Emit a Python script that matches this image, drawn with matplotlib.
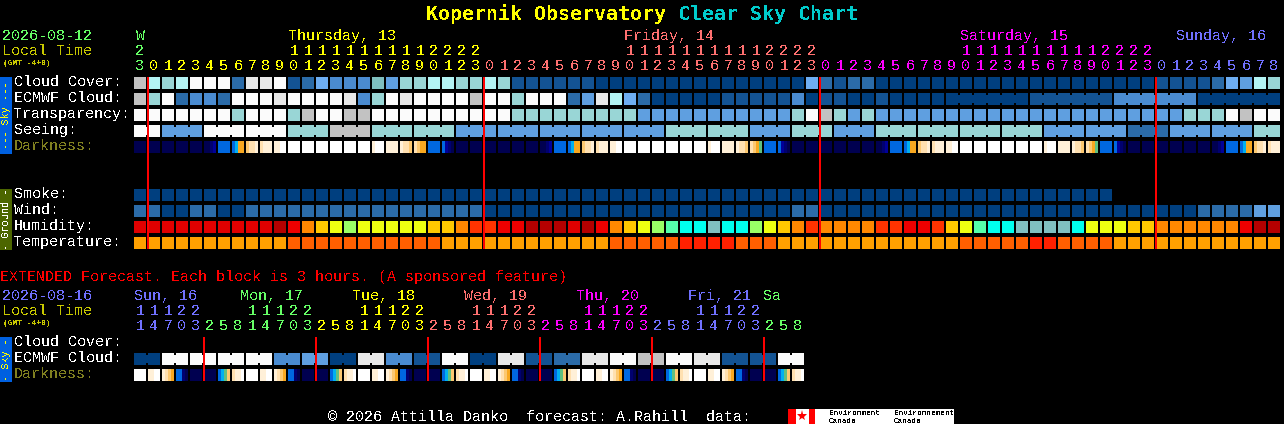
import numpy as np
import matplotlib
matplotlib.use("Agg")
import matplotlib.pyplot as plt
from matplotlib.patches import Rectangle

# ---------- data (one code per block) ----------
cloud_cover = list("LIHIJJJCKKJBCFDDDGEHH" "IIHHIHBBBBBB" "AAAAAAAAAAAAAAA" "FCBCC"
                   "AAAAAAAAAAAAAAAAAAAA" "BBBBCFEIH")
ecmwf_cloud = list("LHJCDDCJJJKJJJJKDHJKJ" "JJJLJJHJJJCEKIFC" "AAAAABBBBBDABB" "AABAAAA"
                   "AAAAAA" "BBBBBB" "DDDDDD" "AAAAAA")
ecmwf_groups = [1] * 58 + [6, 6, 6, 6]
transparency = list("JJJJJJJ" "H" "JJJ" "H" "L" "JJ" "LL" "JJJJJJJJJJ" "HHHHHHHHH" "EEEEEEEEEEE"
                    "H" "J" "L" "H" "E" "H" "EEEEEEEEEEEEEEEEEEEEEE" "HHH" "J" "L" "JJ")
seeing = list("JJ" "EEE" "JJJ" "JJJ" "HHH" "LLL" "HHH" "HHH" "EEE" "EEE" "EEE" "EEE" "EEE"
              "HHH" "HHH" "EEE" "HHH" "EEE" "HHH" "HHH" "HHH" "HHH" "EEE" "EEE" "CCC" "EEE" "EEE" "HH")
seeing_groups = [2] + [3] * 26 + [2]
darkness = ("0000 0000 0000 0000 0000 0012 3333 "
            "3455 6778 7888 8899 9999 9999 9999 9999 9999 9999 8999 8888 8776 7655 3333 3210 "
            "0000 0000 0000 0000 0000 0000 0012 3333 "
            "3455 6778 7888 8899 9999 9999 9999 9999 9999 9999 8999 8888 8776 765g 3333 3210 "
            "0000 0000 0000 0000 0000 0000 0012 3333 "
            "3455 6778 7888 8899 9999 9999 9999 9999 9999 9999 8999 8888 8776 765g 3333 3210 "
            "0000 0000 0000 0000 0000 0000 0012 3333 "
            "3455 6778 7888").split()
smoke = list("AAAAAAAAAAAAAAAAAAAAAAAAAAAAAAAAAAAAAAAAAAAAAAAAAAAAAAAAAAAAAAAAAAAAAA")
wind = list("CC" "AA" "CC" "AA" "CCCCCCCCCCCCCCCCC" "AAAAAAAAAAAAAAAAAAAAAA" "CC"
            "AAAAAAAAAAAAAAAAAAAAAAAAAAA" "CCCC" "EE")
humidity = list("bbbbbbbbbbacefghggggg" "ffeddccaaabac" "efghijjkjjhgfed" "eeeeddccd"
                "fgijjkkkkjgggff" "eeeeeecaa")
temperature = list("ppppppppppp" "qqqqqqqqqqq" "pppppppppppp" "qqqqq" "rrrr" "qqq"
                   "ppppppppppppp" "qqqqq" "rr" "qqqq" "pppppppppppp")
ext_ecmwf_pairs = list("AJJJJDEAKDBJAKBCKJLJKBBJ")
ext_darkness = ("9999 8899 8765 3310 0000 0000 34g6 7889 "
                "9999 8899 8765 3310 0000 0000 34g6 7889 "
                "9999 8899 8765 3310 0000 0000 34g6 7889 "
                "9999 8899 8765 3310 0000 0000 34g6 7889 "
                "9999 8899 8765 3310 0000 0000 34g6 7889 "
                "9999 8899 8765 3310 0000 0000 34g6 7889").split()

hour_units = list("3" "012345678901234567890123" "012345678901234567890123"
                  "012345678901234567890123" "012345678")
hour_tens = list("2" "          1111111111" "2222" "          1111111111" "2222"
                 "          1111111111" "2222" "         ")
ext_units = list("147032581470325814703258147032581470325814703258")
ext_tens = list("11122   11122   11122   11122   11122   11122   ")
main_midnights = [1, 25, 49, 73]
ext_midnights = [5, 13, 21, 29, 37, 45]

main_days = [("Thursday, 13", 289, "yellow"), ("Friday, 14", 625, "salmon"),
             ("Saturday, 15", 961, "magenta"), ("Sunday, 16", 1177, "blue")]
ext_days = [("Sun, 16", 135, "blue"), ("Mon, 17", 241, "green"), ("Tue, 18", 353, "yellow"),
            ("Wed, 19", 465, "salmon"), ("Thu, 20", 577, "magenta"), ("Fri, 21", 689, "blue"),
            ("Sa", 764, "green")]
main_row_labels = ["Cloud Cover:", "ECMWF Cloud:", "Transparency:", "Seeing:", "Darkness:",
                   None, None, "Smoke:", "Wind:", "Humidity:", "Temperature:"]
ext_row_labels = ["Cloud Cover:", "ECMWF Cloud:", "Darkness:"]

# ---------- styles ----------
W, H = 1284, 424
PAL = dict(A="#003f7f", B="#135393", C="#2b6ba8", D="#4a8bd0", E="#5f9fe0", F="#6eaef2",
           G="#7fbfbf", H="#99d6d6", I="#b3f4f4", J="#fbfbfb", K="#e8e8e8", L="#c2c2c2",
           a="#b50000", b="#e00000", c="#ee0000", d="#ff3300", e="#ff8800", f="#ffc800",
           g="#eeff11", h="#99ff66", i="#55ffaa", j="#00ffee", k="#80c0c0",
           p="#ffa000", q="#ff5f00", r="#ff2000")
DARK = {"0": "#000050", "1": "#000070", "2": "#000098", "3": "#0068e0", "4": "#00b0f0",
        "5": "#f8a820", "6": "#fcc870", "7": "#ffe0b0", "8": "#fff0d8", "9": "#ffffff",
        "g": "#60c080"}
TXT = dict(yellow="#ffff00", salmon="#ff7070", magenta="#ff00ff", blue="#7070ff", green="#66ff66",
           dim="#c8c800", olive="#808020", white="#ffffff")
FONT = "Liberation Mono"
FS = 10.8
BW, BH = 12 / 14, 12 / 16

fig = plt.figure(figsize=(W / 100, H / 100), dpi=100, facecolor="black")


def panel(left, top, ncols, nrows):
    w, h = ncols * 14, nrows * 16
    ax = fig.add_axes([left / W, 1 - (top + h) / H, w / W, h / H])
    ax.set_xlim(-0.5, ncols - 0.5)
    ax.set_ylim(nrows - 0.5, -0.5)
    ax.axis("off")
    return ax


def blocks(ax, row, codes, groups=None):
    xs = np.arange(len(codes))
    ax.bar(xs, BH, BW, bottom=row - BH / 2, color=[PAL[c] for c in codes],
           linewidth=0, antialiased=False)
    if groups:
        i = 0
        for g in groups:
            for k in range(i, i + g - 1):
                ax.bar(k + 0.5, 8 / 16, 2.2 / 14, bottom=row - 4 / 16, color=PAL[codes[k]],
                       linewidth=0, antialiased=False)
            i += g


def dark_blocks(ax, row, cells):
    for c, cell in enumerate(cells):
        subs = len(cell)
        xs = c - BW / 2 + (np.arange(subs) + 0.5) * BW / subs
        ax.bar(xs, BH, BW / subs + 0.001, bottom=row - BH / 2, color=[DARK[k] for k in cell],
               linewidth=0, antialiased=False)


main = panel(133, 75, 82, 11)
blocks(main, 0, cloud_cover)
blocks(main, 1, ecmwf_cloud, ecmwf_groups)
blocks(main, 2, transparency)
blocks(main, 3, seeing, seeing_groups)
dark_blocks(main, 4, darkness)
blocks(main, 7, smoke)
blocks(main, 8, wind)
blocks(main, 9, humidity)
blocks(main, 10, temperature)
main.vlines(np.array(main_midnights) - BW / 2, -0.5 + 2 / 16, 10.5 - 2 / 16, color="#ff0000",
            linewidth=1.44, antialiased=False, zorder=5)

ext = panel(133, 335, 48, 3)
blocks(ext, 1, list(np.repeat(ext_ecmwf_pairs, 2)), [2] * 24)
dark_blocks(ext, 2, ext_darkness)
ext.vlines(np.array(ext_midnights) - BW / 2, -0.5 + 2 / 16, 2.5 - 2 / 16, color="#ff0000",
           linewidth=1.44, antialiased=False, zorder=5)

# overlay in picture pixels for text and decoration
ov = fig.add_axes([0, 0, 1, 1])
ov.set_xlim(0, W)
ov.set_ylim(H, 0)
ov.axis("off")
ov.patch.set_alpha(0)


def T(x, y, s, color="#ffffff", size=FS, ha="left", weight="normal", rot=0, va="baseline", font=FONT):
    ov.text(x, y, s, color=color, fontsize=size, ha=ha, va=va, family=font, weight=weight,
            rotation=rot, antialiased=False)


def col_x(c):
    return 134 + 14 * c + 6


# title
T(426, 20, "Kopernik Observatory", "#ffff00", 14.35, weight="bold", font="DejaVu Sans Mono")
T(678, 20, "Clear Sky Chart", "#00cccc", 14.35, weight="bold", font="DejaVu Sans Mono")

# left headers
T(2, 40, "2026-08-12", TXT["green"])
T(2, 55, "Local Time", TXT["dim"])
T(3, 65, "(GMT -4+0)", TXT["dim"], 5.7, weight="bold")
T(2, 300, "2026-08-16", TXT["blue"])
T(2, 315, "Local Time", TXT["dim"])
T(3, 325, "(GMT -4+0)", TXT["dim"], 5.7, weight="bold")

# main time header
T(col_x(0), 40, "W", TXT["green"], ha="center")
for name, x, col in main_days:
    T(x - 1, 40, name, TXT[col])
for c, (t, u) in enumerate(zip(hour_tens, hour_units)):
    col = "green" if c == 0 else ["yellow", "salmon", "magenta", "blue"][(c - 1) // 24]
    if t.strip():
        T(col_x(c), 55, t, TXT[col], ha="center")
    T(col_x(c), 70, u, TXT[col], ha="center")

# extended time header
T(0, 281, "EXTENDED Forecast. Each block is 3 hours. (A sponsored feature)", "#ff0000")
for name, x, col in ext_days:
    T(x - 1, 300, name, TXT[col])
ext_cols = ["blue", "green", "yellow", "salmon", "magenta", "blue", "green"]
for c, (t, u) in enumerate(zip(ext_tens, ext_units)):
    col = ext_cols[(c + 3) // 8]
    if t.strip():
        T(col_x(c), 315, t, TXT[col], ha="center")
    T(col_x(c), 330, u, TXT[col], ha="center")

# row labels
for r, lab in enumerate(main_row_labels):
    if lab:
        T(14, 86 + 16 * r, lab, TXT["olive"] if lab.startswith("Dark") else "#ffffff")
for r, lab in enumerate(ext_row_labels):
    T(14, 346 + 16 * r, lab, TXT["olive"] if lab.startswith("Dark") else "#ffffff")

# side bars
for y0, y1, fc, s, tc in [(77, 154, "#0060e0", "--- Sky ---", "#ffff00"),
                          (189, 250, "#4c6600", "- Ground -", "#ffffff"),
                          (337, 382, "#0060e0", "- Sky -", "#ffff00")]:
    ov.add_patch(Rectangle((0, y0), 12, y1 - y0, facecolor=fc, edgecolor="none", antialiased=False))
    T(6, (y0 + y1) / 2, s, tc, 7.4, ha="center", rot=90, va="center")

# footer
T(328, 421, "\u00a9 2026 Attilla Danko  forecast: A.Rahill  data:", "#ffffff")
ov.add_patch(Rectangle((788, 409), 166, 15, facecolor="white", edgecolor="none", antialiased=False))
for x0, w in [(788, 8), (809, 6)]:
    ov.add_patch(Rectangle((x0, 409), w, 15, facecolor="#ff0000", edgecolor="none", antialiased=False))
ov.plot([802], [416], marker="*", ms=8, color="#ff0000", mew=0)
for x, a in [(829, "Environment"), (894, "Environnement")]:
    T(x, 415, a, "#000000", 5.5)
    T(x, 423, "Canada", "#000000", 5.5)

fig.savefig("out.png", dpi=100, facecolor="black")
